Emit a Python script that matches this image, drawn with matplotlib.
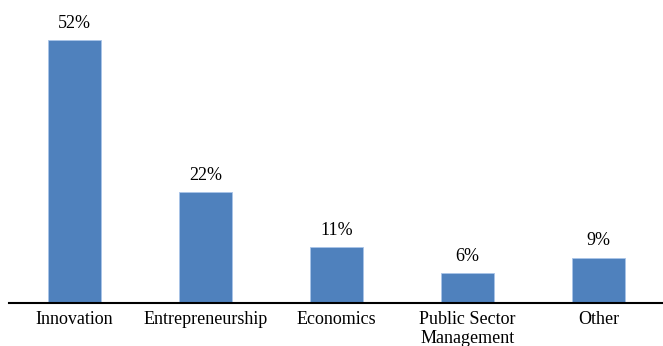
import matplotlib.pyplot as plt

categories = ["Innovation", "Entrepreneurship", "Economics", "Public Sector\nManagement", "Other"]
shares = [52, 22, 11, 6, 9]

plt.rcParams['font.family'] = ['Liberation Serif', 'DejaVu Serif']

fig = plt.figure(figsize=(6.63, 3.46), dpi=100)
# 底部留出分类标签的位置
ax = fig.add_axes([9 / 663, 43 / 346, 655 / 663, 278 / 346])

x = range(len(categories))
ax.bar(x, shares, width=0.4, color='#4F81BD', edgecolor='#A9C4E8', linewidth=0.6, zorder=2)

for xi, v in zip(x, shares):
    ax.text(xi, v + 1.6, f"{v}%", ha='center', va='bottom', fontsize=13, color='black')

ax.set_xlim(-0.5, len(categories) - 0.5)
ax.set_ylim(0, 55)
ax.set_xticks(list(x))
ax.set_xticklabels(categories, fontsize=13, linespacing=1.12, va='top')
ax.tick_params(axis='x', length=0, pad=6)
ax.set_yticks([])

for side in ['top', 'right', 'left']:
    ax.spines[side].set_visible(False)
ax.spines['bottom'].set_linewidth(1.5)
ax.spines['bottom'].set_zorder(3)

fig.savefig('out.png', dpi=100)
